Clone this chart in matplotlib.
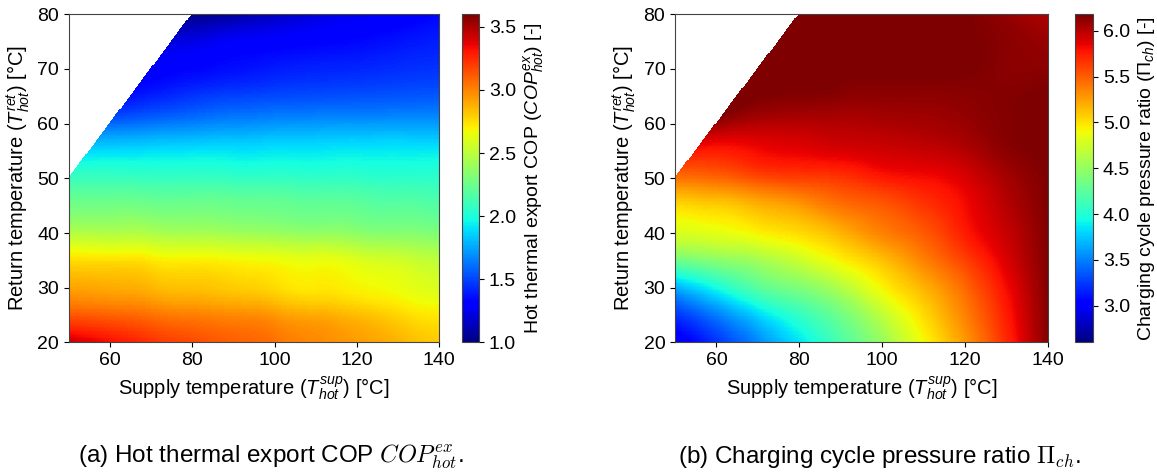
import numpy as np
import matplotlib
matplotlib.use('Agg')
import matplotlib.pyplot as plt
import matplotlib.tri as mtri

plt.rcParams['font.family'] = ['Liberation Sans', 'DejaVu Sans']
plt.rcParams['mathtext.fontset'] = 'custom'
plt.rcParams['mathtext.rm'] = 'Liberation Sans'
plt.rcParams['mathtext.it'] = 'Liberation Sans:italic'
plt.rcParams['mathtext.bf'] = 'Liberation Sans:bold'

nan = np.nan

# Supply temperature (columns) and return temperature (rows), degC
supply_temp = [50, 60, 70, 80, 90, 100, 110, 120, 130, 140]
return_temp = [20, 25, 30, 35, 40, 45, 50, 55, 60, 65, 70, 75, 80]

# (a) Hot thermal export COP, rows follow return_temp (white = infeasible)
cop_hot = [
    [3.43, 3.33, 3.23, 3.16, 3.10, 3.05, 2.98, 2.93, 2.87, 2.80],
    [3.12, 3.09, 3.05, 3.01, 2.98, 2.94, 2.89, 2.84, 2.77, 2.72],
    [2.91, 2.89, 2.86, 2.83, 2.80, 2.76, 2.72, 2.69, 2.65, 2.60],
    [2.75, 2.74, 2.72, 2.70, 2.68, 2.66, 2.64, 2.60, 2.56, 2.51],
    [2.47, 2.46, 2.45, 2.43, 2.41, 2.39, 2.37, 2.35, 2.33, 2.31],
    [2.27, 2.27, 2.26, 2.26, 2.25, 2.24, 2.22, 2.21, 2.19, 2.17],
    [2.09, 2.09, 2.08, 2.08, 2.07, 2.07, 2.06, 2.06, 2.05, 2.05],
    [nan,  1.88, 1.89, 1.90, 1.90, 1.91, 1.91, 1.92, 1.92, 1.92],
    [nan,  1.585, 1.62, 1.65, 1.68, 1.70, 1.71, 1.715, 1.72, 1.72],
    [nan,  nan,  1.40, 1.455, 1.49, 1.51, 1.52, 1.53, 1.54, 1.55],
    [nan,  nan,  1.30, 1.33, 1.36, 1.39, 1.41, 1.42, 1.44, 1.455],
    [nan,  nan,  nan,  1.23, 1.28, 1.30, 1.32, 1.34, 1.37, 1.40],
    [nan,  nan,  nan,  1.00, 1.06, 1.14, 1.22, 1.26, 1.29, 1.34],
]

# (b) Charging cycle pressure ratio, rows follow return_temp
pr_charge = [
    [2.95, 3.23, 3.53, 3.85, 4.19, 4.52, 4.91, 5.28, 5.71, 6.18],
    [3.23, 3.50, 3.81, 4.08, 4.35, 4.69, 5.03, 5.37, 5.76, 6.18],
    [3.67, 3.96, 4.24, 4.41, 4.63, 4.93, 5.18, 5.47, 5.82, 6.18],
    [4.35, 4.46, 4.57, 4.74, 4.94, 5.13, 5.37, 5.62, 5.90, 6.18],
    [4.80, 4.85, 4.94, 5.03, 5.18, 5.37, 5.52, 5.76, 5.96, 6.18],
    [5.03, 5.08, 5.18, 5.28, 5.43, 5.52, 5.66, 5.82, 6.01, 6.18],
    [5.43, 5.47, 5.57, 5.62, 5.66, 5.76, 5.81, 5.90, 6.06, 6.18],
    [nan,  5.76, 5.82, 5.86, 5.90, 5.93, 5.96, 6.02, 6.14, 6.18],
    [nan,  6.10, 6.02, 6.01, 6.02, 6.04, 6.06, 6.10, 6.16, 6.18],
    [nan,  nan,  6.18, 6.16, 6.14, 6.13, 6.13, 6.14, 6.16, 6.18],
    [nan,  nan,  6.18, 6.18, 6.18, 6.18, 6.18, 6.18, 6.14, 6.14],
    [nan,  nan,  nan,  6.18, 6.18, 6.18, 6.18, 6.18, 6.14, 6.09],
    [nan,  nan,  nan,  6.18, 6.18, 6.18, 6.18, 6.17, 6.10, 6.02],
]

cop_range = (1.0, 3.6)
pr_range = (2.6, 6.18)
x_ticks = [60, 80, 100, 120, 140]
y_ticks = [20, 30, 40, 50, 60, 70, 80]


def smooth_field(rows, n_x=360, n_y=240):
    Z = np.array(rows, dtype=float)
    X, Y = np.meshgrid(np.array(supply_temp, float), np.array(return_temp, float))
    ok = ~np.isnan(Z)
    tri = mtri.Triangulation(X[ok], Y[ok])
    interp = mtri.CubicTriInterpolator(tri, Z[ok], kind='min_E')
    x0, x1 = min(supply_temp), max(supply_temp)
    y0, y1 = min(return_temp), max(return_temp)
    xf = x0 + (np.arange(n_x) + 0.5) * (x1 - x0) / n_x
    yf = y0 + (np.arange(n_y) + 0.5) * (y1 - y0) / n_y
    XF, YF = np.meshgrid(xf, yf)
    ZF = interp(XF, YF)
    ZF = np.ma.masked_where((YF > XF) | np.ma.getmaskarray(ZF), ZF)
    return ZF


fig = plt.figure(figsize=(11.57, 4.75), dpi=100)

panels = [
    dict(data=cop_hot, rng=cop_range, ax=[0.0596, 0.279, 0.3198, 0.691],
         cax=[0.3993, 0.279, 0.0147, 0.691],
         clabel=r'Hot thermal export COP ($COP^{ex}_{hot}$) [-]',
         cticks=[1.0, 1.5, 2.0, 2.5, 3.0, 3.5],
         caption=r'(a) Hot thermal export COP $COP^{ex}_{hot}$.', cx=0.234),
    dict(data=pr_charge, rng=pr_range, ax=[0.5834, 0.279, 0.3224, 0.691],
         cax=[0.9295, 0.279, 0.0152, 0.691],
         clabel=r'Charging cycle pressure ratio ($\Pi_{ch}$) [-]',
         cticks=[3.0, 3.5, 4.0, 4.5, 5.0, 5.5, 6.0],
         caption=r'(b) Charging cycle pressure ratio $\Pi_{ch}$.', cx=0.760),
]

for p in panels:
    ax = fig.add_axes(p['ax'])
    Z = smooth_field(p['data'])
    im = ax.imshow(Z, origin='lower', aspect='auto', cmap='jet',
                   vmin=p['rng'][0], vmax=p['rng'][1], interpolation='nearest',
                   extent=[min(supply_temp), max(supply_temp),
                           min(return_temp), max(return_temp)])
    ax.set_xlim(min(supply_temp), max(supply_temp))
    ax.set_ylim(min(return_temp), max(return_temp))
    ax.set_xticks(x_ticks)
    ax.set_yticks(y_ticks)
    ax.tick_params(labelsize=14)
    ax.set_xlabel(r'Supply temperature ($T^{sup}_{hot}$) [°C]', fontsize=14.5)
    ax.set_ylabel(r'Return temperature ($T^{ret}_{hot}$) [°C]', fontsize=14.5)
    for s in ax.spines.values():
        s.set_color('#444444')
    cax = fig.add_axes(p['cax'])
    cb = fig.colorbar(im, cax=cax)
    cb.set_ticks(p['cticks'])
    cb.ax.tick_params(labelsize=14)
    cb.set_label(p['clabel'], fontsize=14)
    cb.outline.set_edgecolor('#444444')
    fig.text(p['cx'], 0.038, p['caption'], ha='center', va='center',
             fontsize=17.5, math_fontfamily='cm')

fig.savefig('out.png', dpi=100)
